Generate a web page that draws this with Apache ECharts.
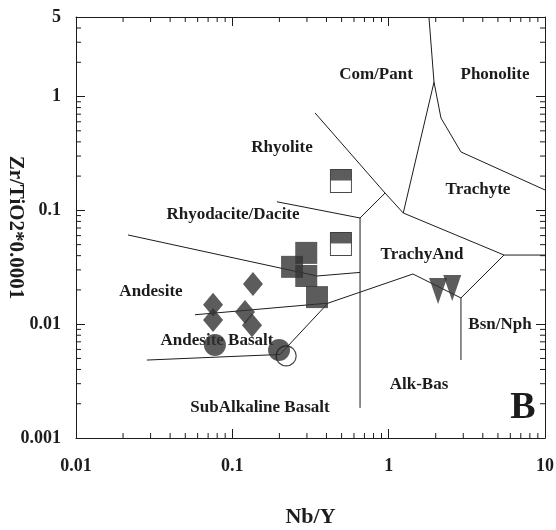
<!DOCTYPE html>
<html>
<head>
<meta charset="utf-8">
<script src="https://cdn.jsdelivr.net/npm/echarts@6/dist/echarts.min.js"></script>
<style>
  html, body { margin: 0; padding: 0; background: #fff; }
  #chart { width: 556px; height: 530px; }
</style>
</head>
<body>
<div id="chart"></div>
<script>
// tick labels
const xTickValues = [0.01, 0.1, 1, 10];
const xTickLabels = ['0.01', '0.1', '1', '10'];
const yTickValues = [0.001, 0.01, 0.1, 1, 5];
const yTickLabels = ['0.001', '0.01', '0.1', '1', '5'];

// field boundaries [Nb/Y, Zr/TiO2*0.0001]
const andesiteTop = [[0.0215, 0.0608], [0.348, 0.0265], [0.656, 0.0285]];
const rhyoliteBase = [[0.193, 0.119], [0.656, 0.0857]];
const subAlkLimit = [[0.656, 0.0857], [0.656, 0.00184]];
const rhyoliteFork = [[0.656, 0.0857], [0.948, 0.142]];
const comendite = [[0.338, 0.718], [0.948, 0.142], [1.24, 0.0948]];
const trachyteBase = [[1.24, 0.0948], [5.47, 0.0405], [10, 0.0405]];
const phonoliteEdge = [[1.24, 0.0948], [1.95, 1.34], [1.81, 5]];
const trachyteTop = [[1.95, 1.34], [2.16, 0.649], [2.90, 0.326], [10, 0.151]];
const bsnNphEdge = [[5.47, 0.0405], [2.90, 0.0170]];
const bsnNphBase = [[2.90, 0.0170], [2.90, 0.00484]];
const andBasTop = [[0.0577, 0.0121], [0.409, 0.0153], [1.43, 0.0276], [2.90, 0.0170]];
const subAlkTop = [[0.0284, 0.00484], [0.202, 0.00542], [0.409, 0.0153]];
const boundaries = [andesiteTop, rhyoliteBase, subAlkLimit, rhyoliteFork, comendite,
  trachyteBase, phonoliteEdge, trachyteTop, bsnNphEdge, bsnNphBase, andBasTop, subAlkTop];

// samples
const squares = [[0.241, 0.0319], [0.297, 0.0423], [0.297, 0.0265], [0.348, 0.0173]];
const halfSquares = [[0.495, 0.181], [0.495, 0.0507]];
const diamonds = [[0.1355, 0.0225], [0.0753, 0.0148], [0.0753, 0.0109], [0.1205, 0.0128], [0.1336, 0.0098]];
const circles = [[0.0774, 0.00656], [0.199, 0.00593]];
const openCircles = [[0.221, 0.00526]];
const triangles = [[2.07, 0.0196], [2.55, 0.0208]];

const fieldNames = ['Com/Pant', 'Phonolite', 'Rhyolite', 'Trachyte', 'Rhyodacite/Dacite', 'TrachyAnd',
  'Andesite', 'Andesite Basalt', 'Bsn/Nph', 'Alk-Bas', 'SubAlkaline Basalt'];

const FONT = '"Liberation Serif", "DejaVu Serif", serif';
const INK = '#1c1c1c';
const FILL = '#333';

const xMinor = [];
[0.01, 0.1, 1].forEach(d => { for (let m = 2; m <= 9; m++) xMinor.push(m * d); });
const yMinor = [];
[0.001, 0.01, 0.1].forEach(d => { for (let m = 2; m <= 9; m++) yMinor.push(m * d); });
[2, 3, 4].forEach(m => yMinor.push(m));

function pick(values, labels) {
  return v => {
    const i = values.findIndex(t => Math.abs(Math.log10(t) - Math.log10(v)) < 0.01);
    return i >= 0 ? labels[i] : '';
  };
}

const chart = echarts.init(document.getElementById('chart'), null, { renderer: 'canvas' });

const tickStyle = { stroke: INK, lineWidth: 1 };
const labelPos = [
  [376, 75], [495, 75], [282, 148], [478, 190], [233, 215], [422, 255],
  [151, 292], [217, 341], [500, 325], [419, 385], [260, 408]
];

const axisCommon = {
  type: 'log', logBase: 10,
  axisLine: { show: true, lineStyle: { color: INK, width: 1 } },
  axisTick: { show: true, inside: true, length: 9, lineStyle: { color: INK } },
  splitLine: { show: false }
};

chart.setOption({
  animation: false,
  backgroundColor: '#fff',
  grid: { left: 76, right: 11, top: 17, bottom: 92, containLabel: false, outerBoundsMode: 'none' },
  xAxis: [
    Object.assign({}, axisCommon, {
      min: 0.01, max: 10, position: 'bottom',
      name: 'Nb/Y', nameLocation: 'middle', nameGap: 68,
      nameTextStyle: { fontFamily: FONT, fontSize: 22, fontWeight: 'bold', color: INK },
      axisLabel: { formatter: pick(xTickValues, xTickLabels), margin: 19,
        fontFamily: FONT, fontSize: 18, fontWeight: 'bold', color: INK }
    }),
    Object.assign({}, axisCommon, {
      min: 0.01, max: 10, position: 'top', axisLabel: { show: false }
    })
  ],
  yAxis: [
    Object.assign({}, axisCommon, {
      min: 0.001, max: 5, position: 'left',
      name: 'Zr/TiO2*0.0001', nameLocation: 'middle', nameGap: 50, nameRotate: -90,
      nameMoveOverlap: false,
      nameTextStyle: { fontFamily: FONT, fontSize: 21, fontWeight: 'bold', color: INK },
      axisLabel: { formatter: pick(yTickValues, yTickLabels), margin: 15,
        fontFamily: FONT, fontSize: 18, fontWeight: 'bold', color: INK }
    }),
    Object.assign({}, axisCommon, {
      min: 0.001, max: 5, position: 'right', axisLabel: { show: false }
    })
  ],
  graphic: fieldNames.map((t, i) => ({
    type: 'text', x: labelPos[i][0], y: labelPos[i][1], z: 0, silent: true,
    style: { text: t, align: 'center', verticalAlign: 'middle',
      font: 'bold 17px ' + FONT, fill: INK }
  })).concat([{
    type: 'text', x: 523, y: 408, z: 0, silent: true,
    style: { text: 'B', align: 'center', verticalAlign: 'middle',
      font: 'bold 38px ' + FONT, fill: INK }
  }]),
  series: boundaries.map(b => ({
    type: 'line', data: b, symbol: 'none', silent: true, z: 2,
    lineStyle: { color: INK, width: 1 }
  })).concat([
    {
      type: 'custom', silent: true, z: 3,
      data: xMinor.map(v => [v, 0.01]),
      renderItem: (params, api) => {
        const b = api.coord([api.value(0), 0.001]);
        const t = api.coord([api.value(0), 5]);
        return { type: 'group', children: [
          { type: 'line', shape: { x1: b[0], y1: b[1], x2: b[0], y2: b[1] - 5 }, style: tickStyle },
          { type: 'line', shape: { x1: t[0], y1: t[1], x2: t[0], y2: t[1] + 5 }, style: tickStyle }
        ] };
      }
    },
    {
      type: 'custom', silent: true, z: 3,
      data: yMinor.map(v => [0.1, v]),
      renderItem: (params, api) => {
        const l = api.coord([0.01, api.value(1)]);
        const r = api.coord([10, api.value(1)]);
        return { type: 'group', children: [
          { type: 'line', shape: { x1: l[0], y1: l[1], x2: l[0] + 5, y2: l[1] }, style: tickStyle },
          { type: 'line', shape: { x1: r[0], y1: r[1], x2: r[0] - 5, y2: r[1] }, style: tickStyle }
        ] };
      }
    },
    {
      type: 'scatter', data: squares, symbol: 'rect', symbolSize: 22, z: 5,
      itemStyle: { color: FILL }
    },
    {
      type: 'scatter', data: halfSquares, symbol: 'rect', symbolSize: [21, 23], z: 5,
      itemStyle: { color: '#fff', borderColor: INK, borderWidth: 1 }
    },
    {
      type: 'scatter', data: halfSquares, symbol: 'path://M0,0H2V1H0Z',
      symbolSize: [21, 11], symbolOffset: [0, -6], z: 6,
      itemStyle: { color: FILL }
    },
    {
      type: 'scatter', data: diamonds, symbol: 'diamond', symbolSize: [20, 24], z: 5,
      itemStyle: { color: FILL }
    },
    {
      type: 'scatter', data: circles, symbol: 'circle', symbolSize: 22, z: 5,
      itemStyle: { color: FILL }
    },
    {
      type: 'scatter', data: openCircles, symbol: 'circle', symbolSize: 20, z: 6,
      itemStyle: { color: 'rgba(255,255,255,0)', borderColor: INK, borderWidth: 1.2 }
    },
    {
      type: 'scatter', data: triangles, symbol: 'triangle', symbolRotate: 180,
      symbolSize: [18, 26], z: 5, itemStyle: { color: FILL }
    }
  ])
});
</script>
</body>
</html>
